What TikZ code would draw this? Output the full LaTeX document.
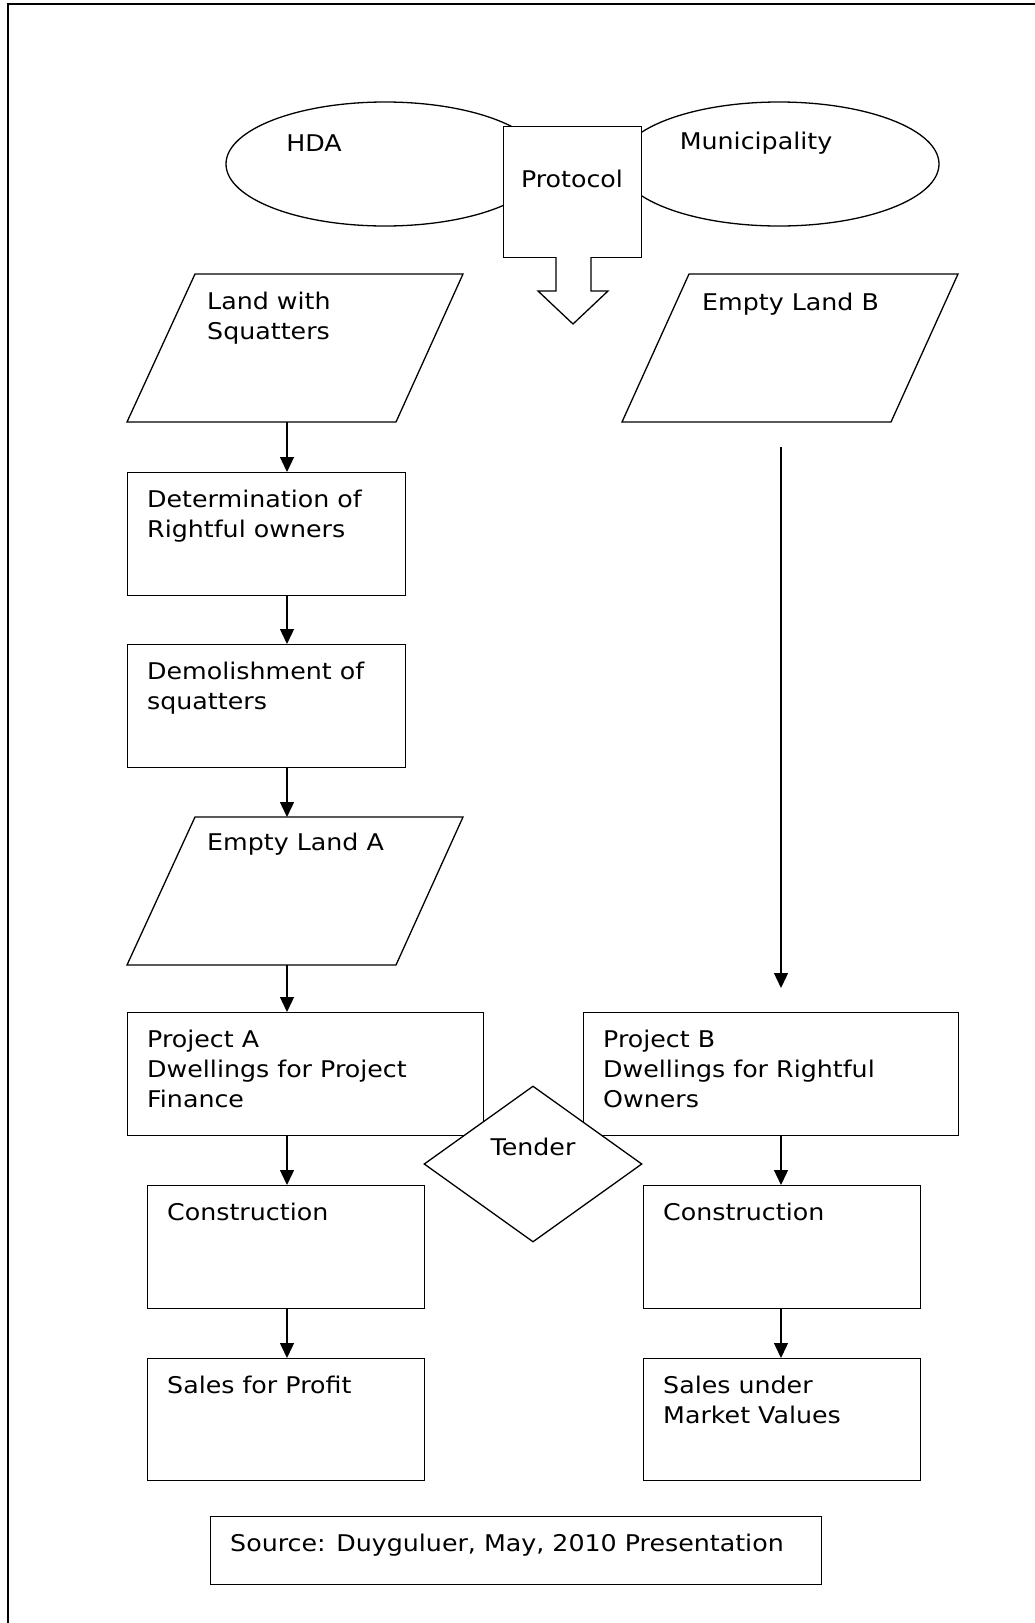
\documentclass[tikz,border=0pt]{standalone}
\usepackage{fontspec}
\setmainfont{DejaVu Sans}[FakeStretch=1.1]
\usetikzlibrary{arrows.meta,shapes.geometric}

\tikzset{
  body/.style={font=\fontsize{23}{30}\selectfont},
  shapeline/.style={draw=black, line width=1.3pt},
  stepbox/.style={shapeline, rectangle, inner sep=0pt, anchor=north west, fill=white},
  txt/.style={body, inner sep=0pt, align=left},
  boxtext/.style={txt, anchor=north west, xshift=20pt, yshift=-18pt},
  arr/.style={line width=1.3pt, -{Triangle[length=15pt,width=14pt]}},
}

\begin{document}
\begin{tikzpicture}[x=1pt, y=-1pt]
\useasboundingbox (0,0) rectangle (1034,1623);

% page frame (right and bottom sides lie outside the page)
\draw[line width=2pt] (8,1630) -- (8,4) -- (1040,4);

% partners
\node[shapeline, ellipse, minimum width=318pt, minimum height=124pt, inner sep=0pt] (hda) at (385,164) {};
\node[shapeline, ellipse, minimum width=320pt, minimum height=124pt, inner sep=0pt] (mun) at (779,164) {};
\node[txt] (hdat) at (314,143) {HDA};
\node[txt] (munt) at (756,143) {Municipality};

% protocol box with its block arrow
\node[stepbox, minimum width=138pt, minimum height=131pt] (prot) at (503,126) {};
\node[txt] (prott) at (572,179) {Protocol};
\draw[shapeline, fill=white] (556,257) -- (556,291) -- (538,291) -- (573,324) -- (608,291) -- (591,291) -- (591,257);

% column guides
\coordinate (colA) at (287,0);
\coordinate (colB) at (781,0);

% left column
\draw[shapeline] (127,422) coordinate (lws-sw) -- (195,274) -- (463,274) -- (396,422) -- cycle;
\node[txt, anchor=north west] (lwst) at (207,292) {Land with\\Squatters};

\node[stepbox, minimum width=278pt, minimum height=123pt,
  label={[boxtext]north west:Determination of\\Rightful owners}] (det) at (127,472) {};
\node[stepbox, minimum width=278pt, minimum height=123pt,
  label={[boxtext]north west:Demolishment of\\squatters}] (dem) at (127,644) {};

\draw[shapeline] (127,965) coordinate (ela-sw) -- (195,817) coordinate (ela-nw) -- (463,817) -- (396,965) -- cycle;
\node[txt, anchor=north west] (elat) at (207,833) {Empty Land A};

\node[stepbox, minimum width=356pt, minimum height=123pt,
  label={[boxtext]north west:Project A\\Dwellings for Project\\Finance}] (pa) at (127,1012) {};

% right column
\draw[shapeline] (622,422) coordinate (elb-sw) -- (689,274) -- (958,274) -- (891,422) -- cycle;
\node[txt, anchor=north west] (elbt) at (702,293) {Empty Land B};

\node[stepbox, minimum width=375pt, minimum height=123pt,
  label={[boxtext]north west:Project B\\Dwellings for Rightful\\Owners}] (pb) at (583,1012) {};

% tender
\node[shapeline, diamond, aspect=1.4, minimum width=218pt, minimum height=156pt, inner sep=0pt, fill=white] (tender) at (533,1164) {};
\node[txt] (tendert) at (533,1147) {Tender};

% construction and sales
\node[stepbox, minimum width=277pt, minimum height=123pt,
  label={[boxtext]north west:Construction}] (ca) at (147,1185) {};
\node[stepbox, minimum width=277pt, minimum height=122pt,
  label={[boxtext]north west:Sales for Profit}] (sa) at (147,1358) {};
\node[stepbox, minimum width=277pt, minimum height=123pt,
  label={[boxtext]north west:Construction}] (cb) at (643,1185) {};
\node[stepbox, minimum width=277pt, minimum height=122pt,
  label={[boxtext]north west:Sales under\\Market Values}] (sb) at (643,1358) {};

% source note
\node[stepbox, minimum width=611pt, minimum height=68pt,
  label={[boxtext]north west:Source: Duyguluer, May, 2010 Presentation}] (src) at (210,1516) {};

% connectors
\draw[arr] (colA |- lws-sw) -- (colA |- det.north);
\draw[arr] (colA |- det.south) -- (colA |- dem.north);
\draw[arr] (colA |- dem.south) -- (colA |- ela-nw);
\draw[arr] (colA |- ela-sw) -- (colA |- pa.north);
\draw[arr] (colA |- pa.south) -- (colA |- ca.north);
\draw[arr] (colA |- ca.south) -- (colA |- sa.north);

\coordinate (bstart) at (781,447);
\coordinate (bend) at (781,988);
\draw[arr] (bstart) -- (bend);
\draw[arr] (colB |- pb.south) -- (colB |- cb.north);
\draw[arr] (colB |- cb.south) -- (colB |- sb.north);
\end{tikzpicture}
\end{document}
